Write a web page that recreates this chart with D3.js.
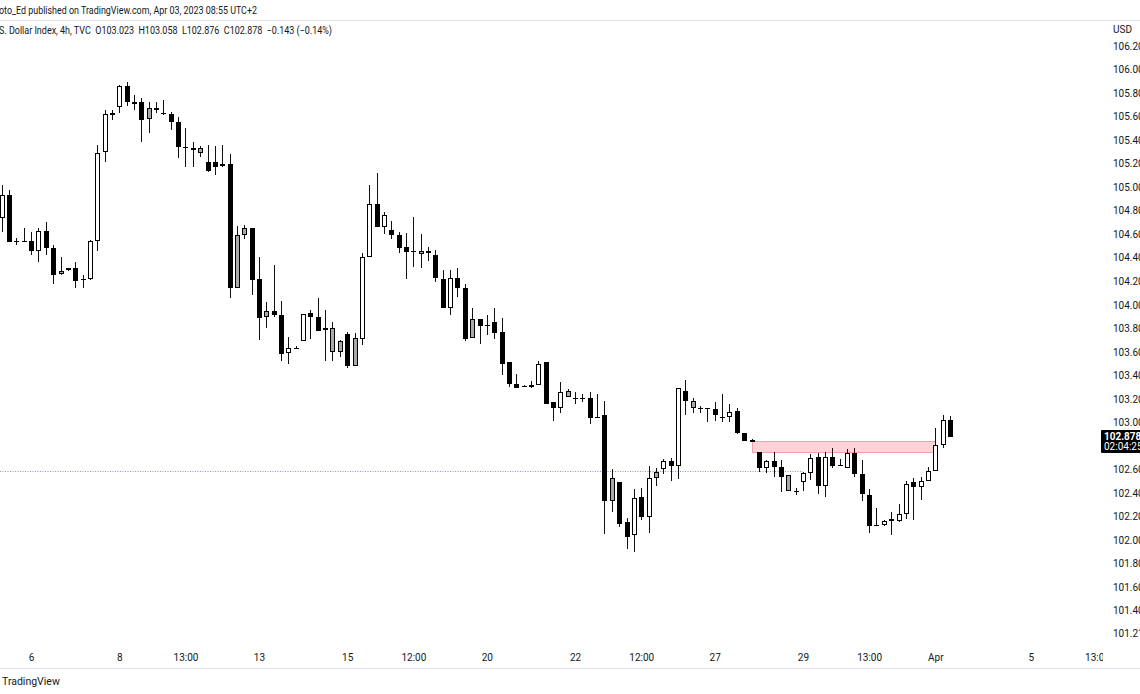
<!DOCTYPE html>
<html><head><meta charset="utf-8">
<script src="https://cdn.jsdelivr.net/npm/d3@7"></script>
<style>html,body{margin:0;padding:0;background:#fff;overflow:hidden}</style>
</head><body>
<svg id="chart" width="1140" height="694"></svg>
<script>
// ---- data (4h candles, index = bar number) ----
const opens = [104.74,104.93,104.54,104.54,104.54,104.46,104.63,104.48,104.26,104.30,
104.31,104.21,104.22,104.54,105.30,105.62,105.68,105.86,105.72,105.72,
105.58,105.67,105.63,105.62,105.55,105.34,105.32,105.29,105.21,105.21,
105.18,105.20,104.14,104.59,104.65,104.22,103.90,103.95,103.91,103.59,
103.63,103.69,103.93,103.90,103.80,103.80,103.60,103.75,103.48,103.71,
104.41,104.86,104.66,104.64,104.59,104.49,104.46,104.46,104.44,104.42,
104.22,103.97,104.23,104.14,103.72,103.88,103.83,103.85,103.77,103.51,
103.33,103.31,103.32,103.32,103.51,103.17,103.12,103.27,103.21,103.21,
103.21,103.05,103.06,102.33,102.49,102.15,102.04,102.37,102.20,102.53,
102.60,102.67,102.63,103.27,103.18,103.12,103.12,103.11,103.05,103.05,
103.10,102.91,102.85,102.75,102.61,102.67,102.62,102.55,102.42,102.49,
102.57,102.71,102.46,102.71,102.64,102.61,102.74,102.56,102.38,102.13,
102.13,102.18,102.16,102.22,102.49,102.45,102.50,102.59,102.81,103.023];
const highs = [105.02,104.98,104.57,104.65,104.62,104.65,104.70,104.51,104.41,104.31,
104.36,104.25,104.55,105.36,105.66,105.66,105.87,105.89,105.78,105.76,
105.72,105.72,105.74,105.64,105.60,105.50,105.38,105.35,105.36,105.35,
105.36,105.28,104.67,104.68,104.65,104.41,104.02,104.34,104.03,103.73,
103.65,103.92,103.96,104.06,103.96,103.85,103.70,103.77,103.76,104.44,
105.02,105.12,104.79,104.71,104.62,104.61,104.75,104.60,104.49,104.47,
104.30,104.30,104.31,104.18,103.97,103.88,103.91,103.97,103.89,103.51,
103.41,103.32,103.35,103.52,103.51,103.17,103.34,103.28,103.26,103.24,
103.26,103.24,103.18,102.60,102.49,102.19,102.43,102.44,102.63,102.61,
102.69,102.70,103.29,103.36,103.21,103.14,103.12,103.17,103.24,103.16,
103.12,102.91,102.86,102.75,102.68,102.75,102.68,102.55,102.44,102.58,
102.73,102.74,102.75,102.78,102.69,102.77,102.78,102.68,102.43,102.27,
102.17,102.24,102.31,102.50,102.53,102.54,102.62,102.95,103.06,103.058];
const lows = [104.62,104.53,104.51,104.53,104.42,104.36,104.42,104.18,104.25,104.29,
104.14,104.14,104.21,104.46,105.21,105.57,105.63,105.69,105.66,105.38,
105.46,105.63,105.61,105.49,105.25,105.17,105.17,105.26,105.13,105.10,
105.17,104.06,104.14,104.56,104.08,103.70,103.80,103.90,103.52,103.50,
103.62,103.69,103.71,103.78,103.52,103.52,103.56,103.46,103.48,103.66,
104.41,104.66,104.60,104.56,104.44,104.22,104.32,104.31,104.37,104.19,
103.97,103.91,104.07,103.69,103.72,103.67,103.74,103.71,103.40,103.30,
103.29,103.30,103.29,103.32,103.16,103.01,103.08,103.22,103.16,103.17,
102.99,103.04,102.05,102.24,102.11,101.92,101.90,102.17,102.06,102.46,
102.56,102.50,102.52,103.06,103.08,103.08,103.00,103.01,103.00,103.00,
102.90,102.84,102.84,102.58,102.57,102.54,102.41,102.42,102.38,102.42,
102.51,102.39,102.37,102.61,102.63,102.61,102.54,102.33,102.06,102.12,
102.12,102.04,102.15,102.18,102.17,102.34,102.50,102.59,102.78,102.876];
const closes = [104.93,104.53,104.54,104.54,104.46,104.63,104.48,104.25,104.29,104.31,
104.20,104.22,104.54,105.29,105.62,105.63,105.86,105.72,105.71,105.57,
105.67,105.67,105.62,105.55,105.34,105.33,105.33,105.33,105.14,105.17,
105.20,104.14,104.59,104.65,104.21,103.89,103.95,103.91,103.58,103.63,
103.63,103.92,103.90,103.78,103.79,103.60,103.69,103.48,103.72,104.41,
104.86,104.66,104.76,104.59,104.48,104.45,104.46,104.43,104.46,104.23,
103.97,104.23,104.14,103.71,103.88,103.82,103.83,103.76,103.50,103.33,
103.29,103.31,103.32,103.50,103.16,103.12,103.26,103.22,103.21,103.21,
103.04,103.05,102.33,102.53,102.14,102.03,102.36,102.20,102.53,102.58,
102.67,102.63,103.29,103.18,103.12,103.12,103.12,103.06,103.05,103.09,
102.91,102.84,102.84,102.61,102.67,102.62,102.54,102.42,102.42,102.57,
102.70,102.46,102.71,102.63,102.64,102.74,102.56,102.39,102.12,102.13,
102.16,102.16,102.22,102.48,102.45,102.50,102.59,102.81,103.02,102.878];
// candle colour class: w = white, b = black, g = grey
const kinds = ("wbbbbwbbgw"+"bbwwwwwbbb"+"gwbbbbwgbb"+"wbggbbgbbw"+"bwbbgggbgw"+
               "wbwbbbbggb"+"bwbbgbbbbb"+"bbwwbbwgbb"+"bbbgbbwbwg"+"wbwbgbbbbw"+
               "bbgbwbbgbw"+"wbwbbwbbbb"+"wbwwbwwwwb").split("");

const priceTicks = [106.2,106.0,105.8,105.6,105.4,105.2,105.0,104.8,104.6,104.4,104.2,104.0,
                    103.8,103.6,103.4,103.2,103.0,102.6,102.4,102.2,102.0,101.8,101.6,101.4,101.21];
const timeTickIndex  = [4,16,25,35,47,56,66,78,87,97,109,118,127,140,149];
const timeTickLabels = ["6","8","13:00","13","15","12:00","20","22","12:00","27","29","13:00","Apr","5","13:00"];

const zoneStartIndex = 102, zoneEndIndex = 127, zoneHigh = 102.84, zoneLow = 102.745;
const dottedLevel = 102.589, dottedEndIndex = 109;
const lastPrice = 102.878, countdown = "02:04:25";
const headerLine1 = "oto_Ed published on TradingView.com, Apr 03, 2023 08:55 UTC+2";
const headerLine2 = "S. Dollar Index, 4h, TVC  O103.023  H103.058  L102.876  C102.878  \u22120.143 (\u22120.14%)";

// ---- drawing ----
const FONT = "Roboto, 'Liberation Sans', Arial, sans-serif";
const svg = d3.select("#chart");
const x = d3.scaleLinear().domain([0, 149]).range([1.7, 1097]);
const y = d3.scaleLinear().domain([101.21, 106.2]).range([633, 46]);

svg.append("rect").attr("width",1140).attr("height",694).attr("fill","#fff");

const defs = svg.append("defs");
defs.append("clipPath").attr("id","plot").append("rect").attr("x",0).attr("y",21).attr("width",1103).attr("height",626);
defs.append("clipPath").attr("id","taxis").append("rect").attr("x",0).attr("y",640).attr("width",1103).attr("height",28);

// frame lines
svg.append("line").attr("x1",0).attr("x2",1140).attr("y1",20.5).attr("y2",20.5).attr("stroke","#e0e3eb");
svg.append("line").attr("x1",0).attr("x2",1140).attr("y1",668.5).attr("y2",668.5).attr("stroke","#e0e3eb");

const plot = svg.append("g").attr("clip-path","url(#plot)");

// dotted level line
plot.append("line")
  .attr("x1",0).attr("x2",x(dottedEndIndex))
  .attr("y1",Math.round(y(dottedLevel))+0.5).attr("y2",Math.round(y(dottedLevel))+0.5)
  .attr("stroke","#4d74e6").attr("stroke-opacity",0.75).attr("stroke-width",1).attr("stroke-dasharray","1,1.5");

// supply zone
plot.append("rect")
  .attr("x",Math.round(x(zoneStartIndex))+0.5)
  .attr("y",Math.round(y(zoneHigh))+0.5)
  .attr("width",Math.round(x(zoneEndIndex))-Math.round(x(zoneStartIndex)))
  .attr("height",Math.round(y(zoneLow))-Math.round(y(zoneHigh)))
  .attr("fill","#fcd3d6").attr("stroke","#f3a0a7").attr("stroke-width",1);

const candles = opens.map((o,i)=>({i,o,h:highs[i],l:lows[i],c:closes[i],k:kinds[i]}));
const cg = plot.selectAll("g.c").data(candles).join("g").attr("class","c");
cg.append("line")
  .attr("x1",d=>Math.round(x(d.i))+0.5).attr("x2",d=>Math.round(x(d.i))+0.5)
  .attr("y1",d=>Math.round(y(d.h))).attr("y2",d=>Math.round(y(d.l)))
  .attr("stroke","#111").attr("stroke-width",1);
cg.append("rect")
  .attr("x",d=> d.k==="b" ? Math.round(x(d.i))-2 : Math.round(x(d.i))-1.5)
  .attr("width",d=> d.k==="b" ? 5 : 4)
  .attr("y",d=>{const t=Math.round(y(Math.max(d.o,d.c))); return d.k==="b"? t : t+0.5;})
  .attr("height",d=>{const t=Math.round(y(Math.max(d.o,d.c))), b=Math.round(y(Math.min(d.o,d.c)));
     return d.k==="b" ? Math.max(1,b-t) : Math.max(1,b-t-1);})
  .attr("fill",d=> d.k==="b" ? "#000" : d.k==="g" ? "#a9a9a9" : "#fff")
  .attr("stroke",d=> d.k==="b" ? "none" : "#000").attr("stroke-width",1);

// price axis
const yAxis = d3.axisRight(y).tickValues(priceTicks).tickFormat(d3.format(".3f")).tickSize(0).tickPadding(0);
const ya = svg.append("g").attr("transform","translate(1113,0)").call(yAxis);
ya.select(".domain").remove();
ya.selectAll("text").attr("font-family",FONT).attr("font-size",10).attr("fill","#131722");
svg.append("text").attr("x",1113).attr("y",33).attr("font-family",FONT).attr("font-size",10).attr("fill","#131722").text("USD");

// current price label
const ly = Math.round(y(lastPrice));
svg.append("rect").attr("x",1101).attr("y",ly-7).attr("width",40).attr("height",23).attr("fill","#000").attr("rx",1);
svg.append("text").attr("x",1104).attr("y",ly+3).attr("font-family",FONT).attr("font-size",10).attr("font-weight","bold").attr("fill","#fff").text(lastPrice.toFixed(3));
svg.append("text").attr("x",1104).attr("y",ly+13).attr("font-family",FONT).attr("font-size",10).attr("fill","#fff").text(countdown);

// time axis
const xAxis = d3.axisBottom(x).tickValues(timeTickIndex).tickFormat((d,i)=>timeTickLabels[i]).tickSize(0).tickPadding(3);
const xa = svg.append("g").attr("clip-path","url(#taxis)").append("g").attr("transform","translate(0,651)").call(xAxis);
xa.select(".domain").remove();
xa.selectAll("text").attr("font-family",FONT).attr("font-size",10).attr("fill","#131722");

// header
svg.append("text").attr("x",-1).attr("y",14).attr("font-family",FONT).attr("font-size",10.5).attr("fill","#131722")
  .attr("textLength",258).attr("lengthAdjust","spacingAndGlyphs").text(headerLine1);
svg.append("text").attr("x",-1).attr("y",34).attr("font-family",FONT).attr("font-size",10.5).attr("fill","#131722")
  .attr("textLength",333).attr("lengthAdjust","spacingAndGlyphs").attr("xml:space","preserve").style("white-space","pre").text(headerLine2);

// footer
svg.append("text").attr("x",2).attr("y",685).attr("font-family",FONT).attr("font-size",10.5).attr("fill","#131722").text("TradingView");
</script>
</body></html>
